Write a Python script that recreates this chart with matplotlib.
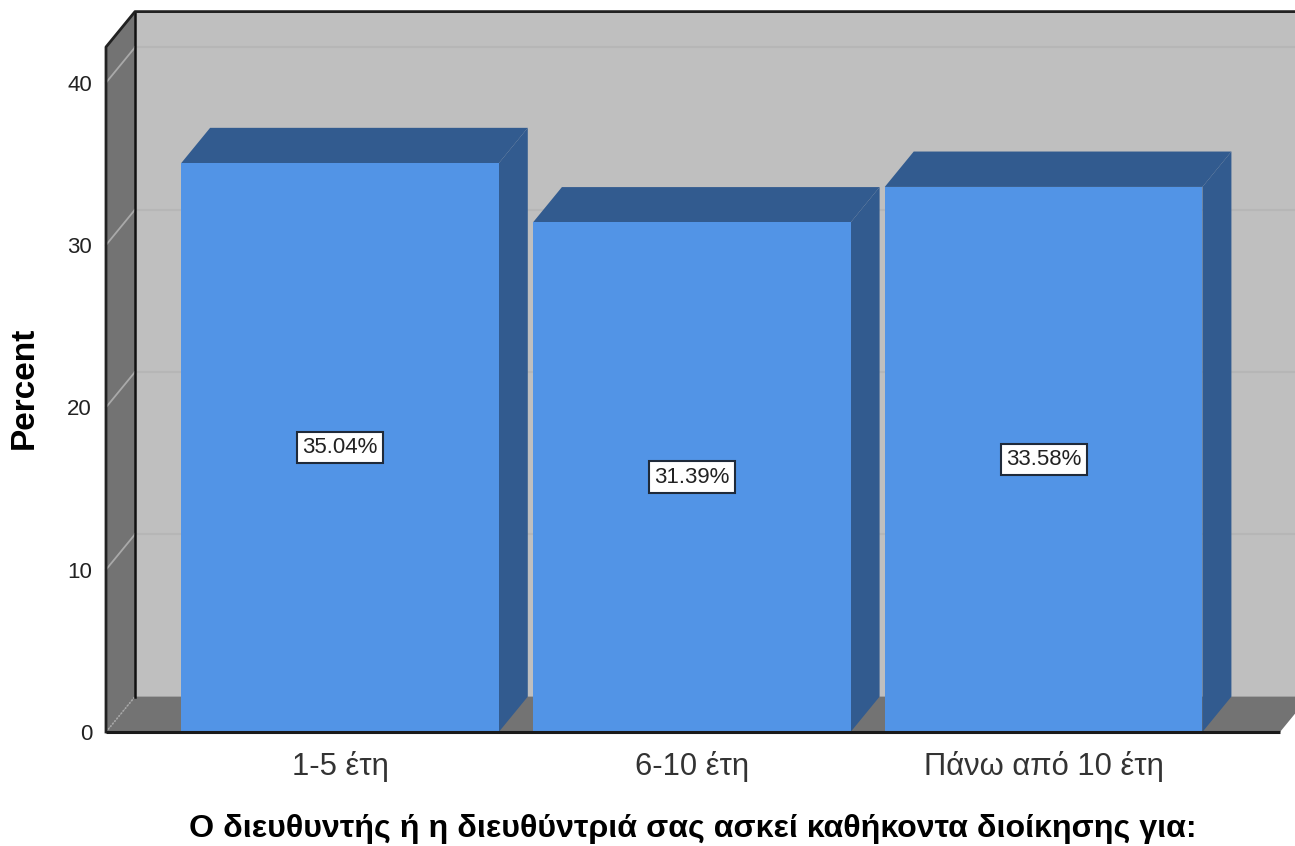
import matplotlib
matplotlib.use("Agg")
import matplotlib.pyplot as plt
from matplotlib.patches import Polygon

categories = ["1-5 έτη", "6-10 έτη", "Πάνω από 10 έτη"]
percent = [35.04, 31.39, 33.58]
y_ticks = [0, 10, 20, 30, 40]

plt.rcParams["font.family"] = ["Liberation Sans", "DejaVu Sans"]

# depth of the fake 3D box, in data units
DX = 0.0824
DY = 2.18
WIDTH = 0.903
YMAX = 42.2
X0, X1 = -0.665, 2.672

WALL = "#bfbfbf"
SIDE = "#737373"
FACE = "#5294e6"
DARK = "#325b8f"

fig = plt.figure(figsize=(12.95, 8.46), dpi=100)
ax = fig.add_axes([106 / 1295, 114 / 846, 1174 / 1295, 685 / 846])
ax.set_xlim(X0, X1)
ax.set_ylim(0, YMAX)
for s in ax.spines.values():
    s.set_visible(False)
ax.patch.set_visible(False)


def poly(pts, color, z):
    ax.add_patch(Polygon(pts, closed=True, fc=color, ec="none", clip_on=False, zorder=z))


# back wall, left wall, floor
poly([(X0 + DX, DY), (X1 + DX, DY), (X1 + DX, YMAX + DY), (X0 + DX, YMAX + DY)], WALL, 1)
poly([(X0, 0), (X0 + DX, DY), (X0 + DX, YMAX + DY), (X0, YMAX)], SIDE, 1)
poly([(X0, 0), (X1, 0), (X1 + DX, DY), (X0 + DX, DY)], SIDE, 1)

# gridlines wrap from the left wall onto the back wall
for t in y_ticks[1:]:
    ax.plot([X0, X0 + DX], [t, t + DY], color="#a9a9a9", lw=1.3, zorder=2, clip_on=False)
    ax.plot([X0 + DX, X1 + DX], [t + DY, t + DY], color="#b6b6b6", lw=1.6, zorder=2, clip_on=False)
ax.plot([X0, X0 + DX], [0, DY], color="#a9a9a9", lw=1.2, ls=(0, (1, 1)), zorder=2)

# box outline
ax.plot([X0 + DX, X0 + DX], [DY, YMAX + DY], color="#111111", lw=1.8, zorder=3, clip_on=False)
ax.plot([X0, X0, X0 + DX, X1 + DX], [0, YMAX, YMAX + DY, YMAX + DY],
        color="#222222", lw=2, zorder=3, clip_on=False)

# bars: side and top faces first, then the front
xs = list(range(len(categories)))
for x, v in zip(xs, percent):
    left = x - WIDTH / 2
    right = x + WIDTH / 2
    poly([(right, 0), (right + DX, DY), (right + DX, v + DY), (right, v)], DARK, 4)
    poly([(left, v), (right, v), (right + DX, v + DY), (left + DX, v + DY)], DARK, 4)
ax.bar(xs, percent, width=WIDTH, color=FACE, zorder=5, clip_on=False)

# front edge of the floor
ax.plot([X0, X1], [0, 0], color="#1a1a1a", lw=2.2, zorder=6, clip_on=False, solid_capstyle="butt")

for x, v in zip(xs, percent):
    ax.text(x, v / 2, f"{v:.2f}%", ha="center", va="center", fontsize=16, color="#222222", zorder=7,
            bbox=dict(boxstyle="square,pad=0.24", fc="white", ec="#1f2a3a", lw=1.5))

ax.set_xticks(xs)
ax.set_xticklabels(categories, fontsize=22.3, color="#333333")
ax.set_yticks(y_ticks)
ax.set_yticklabels([str(t) for t in y_ticks], fontsize=16, color="#222222")
ax.tick_params(axis="both", length=0)
ax.tick_params(axis="x", pad=14)
ax.tick_params(axis="y", pad=10)

ax.set_xlabel("Ο διευθυντής ή η διευθύντριά σας ασκεί καθήκοντα διοίκησης για:",
              fontsize=23.25, fontweight="bold", color="black")
ax.xaxis.set_label_coords((692.5 - 106) / 1174, -(829 - 732) / 685, transform=ax.transAxes)
ax.xaxis.label.set_va("center")
ax.set_ylabel("Percent", fontsize=24, fontweight="bold", color="black")
ax.yaxis.set_label_coords((24 - 106) / 1174, (732 - 388) / 685, transform=ax.transAxes)
ax.yaxis.label.set_va("center")

fig.savefig("out.png", dpi=100)
